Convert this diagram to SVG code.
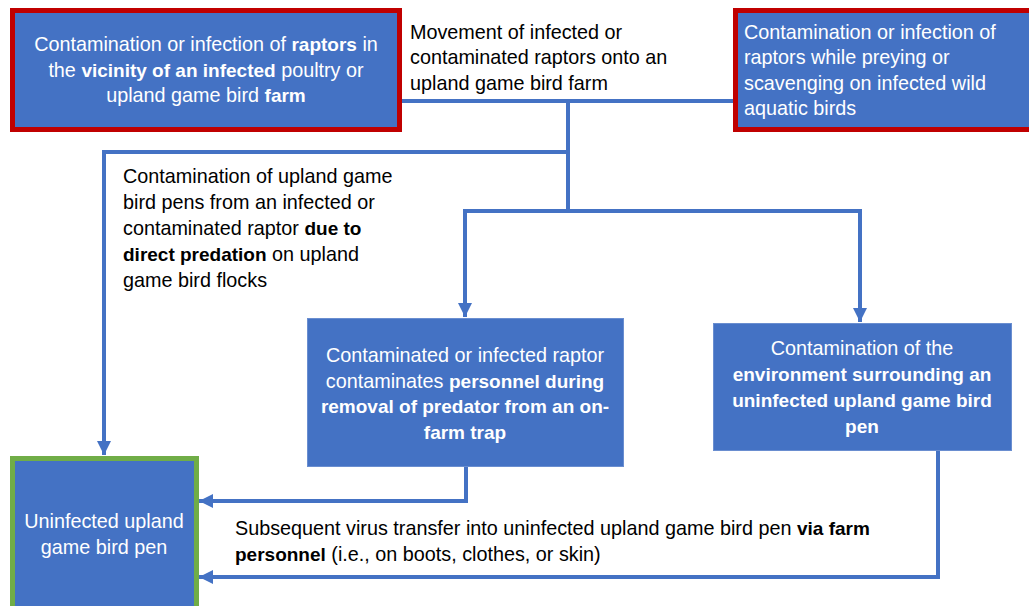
<svg xmlns="http://www.w3.org/2000/svg" width="1029" height="606" viewBox="0 0 1029 606">
<defs>
<style>
.t{font-family:"Liberation Sans",Arial,sans-serif;font-size:19.8px;fill:#000}
.w{fill:#fff}
.c{text-anchor:middle}
.b{font-weight:bold;font-size:19px}
.box{fill:#4472C4;stroke:#6A8ED0;stroke-width:1}
.red{fill:#4472C4;stroke:#C00000;stroke-width:5}
.green{fill:#4472C4;stroke:#70AD47;stroke-width:5}
.ln{fill:none;stroke:#4472C4;stroke-width:4}
</style>
<marker id="ah" markerUnits="userSpaceOnUse" markerWidth="16" markerHeight="16" refX="14" refY="8" orient="auto">
<path d="M0,1 L14,8 L0,15 Z" fill="#4472C4"/>
</marker>
</defs>
<rect width="1029" height="606" fill="#fff"/>
<g id="connectors">
<path class="ln" d="M400,101 H735"/>
<path class="ln" d="M568,101 V213"/>
<path class="ln" d="M570,152 H104 V455" marker-end="url(#ah)"/>
<path class="ln" d="M463,211 H862"/>
<path class="ln" d="M465,209 V317" marker-end="url(#ah)"/>
<path class="ln" d="M860,209 V322" marker-end="url(#ah)"/>
<path class="ln" d="M466,467 V501 H199" marker-end="url(#ah)"/>
<path class="ln" d="M938,451 V577 H199" marker-end="url(#ah)"/>
</g>
<g id="label-movement">
<text class="t" x="410" y="39">Movement of infected or</text>
<text class="t" x="410" y="64">contaminated raptors onto an</text>
<text class="t" x="410" y="90">upland game bird farm</text>
</g>
<g id="label-predation">
<text class="t" x="123" y="183">Contamination of upland game</text>
<text class="t" x="123" y="209">bird pens from an infected or</text>
<text class="t" x="123" y="235">contaminated raptor <tspan class="b">due to</tspan></text>
<text class="t" x="123" y="261"><tspan class="b">direct predation</tspan> on upland</text>
<text class="t" x="123" y="287">game bird flocks</text>
</g>
<g id="label-personnel">
<text class="t" x="235" y="535">Subsequent virus transfer into uninfected upland game bird pen <tspan class="b">via farm</tspan></text>
<text class="t" x="235" y="561"><tspan class="b">personnel</tspan> (i.e., on boots, clothes, or skin)</text>
</g>
<g id="node-raptors-vicinity">
<rect class="red" x="12.5" y="10.5" width="387" height="119"/>
<text class="t w c" x="206" y="51">Contamination or infection of <tspan class="b">raptors</tspan> in</text>
<text class="t w c" x="206" y="77">the <tspan class="b">vicinity of an infected</tspan> poultry or</text>
<text class="t w c" x="206" y="102">upland game bird <tspan class="b">farm</tspan></text>
</g>
<g id="node-raptors-wild">
<rect class="red" x="735.5" y="10.5" width="310" height="119"/>
<text class="t w" x="744" y="39">Contamination or infection of</text>
<text class="t w" x="744" y="64">raptors while preying or</text>
<text class="t w" x="744" y="90">scavenging on infected wild</text>
<text class="t w" x="744" y="115">aquatic birds</text>
</g>
<g id="node-trap">
<rect class="box" x="307.5" y="318.5" width="316" height="148"/>
<text class="t w c" x="465" y="362">Contaminated or infected raptor</text>
<text class="t w c" x="465" y="388">contaminates <tspan class="b">personnel during</tspan></text>
<text class="t w c" x="465" y="413"><tspan class="b">removal of predator from an on-</tspan></text>
<text class="t w c" x="465" y="439"><tspan class="b">farm trap</tspan></text>
</g>
<g id="node-environment">
<rect class="box" x="713.5" y="323.5" width="298" height="127"/>
<text class="t w c" x="862" y="355">Contamination of the</text>
<text class="t w c" x="862" y="381"><tspan class="b">environment surrounding an</tspan></text>
<text class="t w c" x="862" y="407"><tspan class="b">uninfected upland game bird</tspan></text>
<text class="t w c" x="862" y="433"><tspan class="b">pen</tspan></text>
</g>
<g id="node-pen">
<rect class="green" x="12.5" y="458.5" width="184" height="160"/>
<text class="t w c" x="104" y="528">Uninfected upland</text>
<text class="t w c" x="104" y="554">game bird pen</text>
</g>
</svg>
